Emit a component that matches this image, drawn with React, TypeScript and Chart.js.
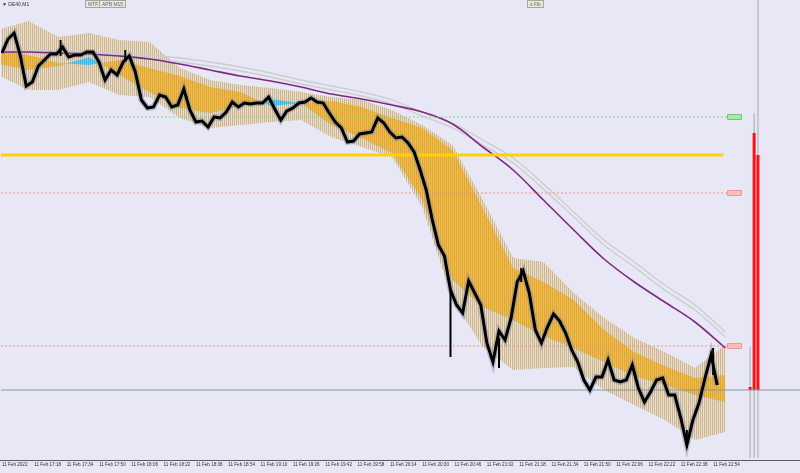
import React, { useEffect, useRef } from "react";
import { Chart, registerables } from "chart.js";
Chart.register(...registerables);

// ---- time axis (bar index, 1 bar = 1 minute, index 0 = 17:02) ----
const tickStep = 16;
const tickLabels = [
  "11 Feb 2022", "11 Feb 17:18", "11 Feb 17:34", "11 Feb 17:50", "11 Feb 18:06",
  "11 Feb 18:22", "11 Feb 18:38", "11 Feb 18:54", "11 Feb 19:10", "11 Feb 19:26",
  "11 Feb 19:42", "11 Feb 19:58", "11 Feb 20:14", "11 Feb 20:30", "11 Feb 20:46",
  "11 Feb 21:02", "11 Feb 21:18", "11 Feb 21:34", "11 Feb 21:50", "11 Feb 22:06",
  "11 Feb 22:22", "11 Feb 22:38", "11 Feb 22:54",
];

// ---- price closes, sampled every 3 bars ----
const priceStep = 3;
const closes = [
  15547, 15561, 15567, 15545, 15514, 15518, 15534, 15540, 15546, 15546,
  15553, 15543, 15545, 15545, 15548, 15548, 15538, 15520, 15530, 15525,
  15538, 15544, 15528, 15500, 15492, 15493, 15505, 15503, 15493, 15495,
  15511, 15490, 15478, 15479, 15473, 15483, 15482, 15488, 15498, 15493,
  15497, 15496, 15497, 15497, 15503, 15491, 15480, 15489, 15492, 15497,
  15498, 15502, 15498, 15497, 15487, 15478, 15472, 15458, 15459, 15466,
  15467, 15468, 15482, 15477, 15468, 15462, 15463, 15457, 15448, 15430,
  15410, 15380, 15355, 15344, 15310, 15295, 15287, 15319, 15307, 15295,
  15257, 15238, 15269, 15260, 15282, 15318, 15329, 15307, 15270, 15257,
  15273, 15286, 15279, 15267, 15250, 15238, 15220, 15210, 15223, 15223,
  15240, 15220, 15218, 15220, 15235, 15212, 15198, 15208, 15220, 15222,
  15205, 15205, 15182, 15155, 15180, 15197, 15222, 15245, 15215,
];

// ---- notable candle wicks (bar index, high, low) ----
const wickIdx = [29, 61, 222, 246, 257, 339, 352];
const wickHigh = [15560, 15550, 15310, 15262, 15332, 15170, 15252];
const wickLow = [15544, 15538, 15243, 15232, 15318, 15152, 15225];

// ---- M15 band indicator (every 15 bars, starting at 17:00) ----
const bandStart = -2;
const bandStep = 15;
const tanUpper = [
  15570, 15579, 15563, 15567, 15560, 15558, 15532, 15520, 15515, 15512,
  15508, 15503, 15500, 15490, 15475, 15455, 15400, 15342, 15338, 15307,
  15282, 15262, 15248, 15232, 15255,
];
const tanLower = [
  15525, 15510, 15510, 15518, 15505, 15503, 15482, 15472, 15475, 15478,
  15480, 15463, 15453, 15443, 15393, 15300, 15253, 15230, 15232, 15233,
  15210, 15195, 15180, 15160, 15168,
];
const apbUpper = [
  15550, 15545, 15537, 15535, 15540, 15532, 15524, 15513, 15508, 15494,
  15497, 15499, 15493, 15482, 15472, 15450, 15392, 15332, 15318, 15300,
  15270, 15248, 15234, 15222, 15225,
];
const apbLower = [
  15536, 15530, 15534, 15543, 15525, 15508, 15492, 15487, 15494, 15501,
  15497, 15475, 15462, 15447, 15400, 15320, 15293, 15280, 15264, 15252,
  15238, 15224, 15215, 15205, 15198,
];

// ---- moving averages (same sampling as bands) ----
const maPurple = [
  15548, 15548, 15547, 15546, 15544, 15541, 15536, 15530, 15524, 15519,
  15513, 15506, 15501, 15495, 15488, 15476, 15453, 15430, 15400, 15370,
  15341, 15318, 15298, 15278, 15252,
];
const maGrayA = [
  15550, 15550, 15549, 15548, 15547, 15545, 15542, 15538, 15533, 15527,
  15520, 15514, 15508, 15500, 15488, 15477, 15460, 15442, 15416, 15388,
  15360, 15338, 15315, 15295, 15268,
];
const maGrayB = [
  15548, 15548, 15547, 15546, 15545, 15542, 15538, 15534, 15529, 15523,
  15516, 15510, 15504, 15496, 15484, 15472, 15455, 15437, 15411, 15383,
  15355, 15333, 15310, 15290, 15263,
];

// ---- horizontal levels ----
const levelGreen = 15483;
const levelGold = 15445;
const levelRed = [15407, 15254];
const levelGray = 15210;
const levelEndIdx = 359;
const goldEndIdx = 357;
const labelBoxIdx = [359, 366];

// ---- right-side profile ----
const profIdx = [370.3, 372.3, 374.2];
const profTop = [15253, 15487, 15600];
const profBase = 15142;
const redTop = [15213, 15467, 15445];
const redBase = 15210;

const X_MIN = -0.5;
const X_MAX = 395;
const Y_MIN = 15140;
const Y_MAX = 15600;

function stripes(c1: string, c2: string | null) {
  const cv = document.createElement("canvas");
  cv.width = 2;
  cv.height = 1;
  const g = cv.getContext("2d")!;
  g.fillStyle = c1;
  g.fillRect(0, 0, 1, 1);
  if (c2) {
    g.fillStyle = c2;
    g.fillRect(1, 0, 1, 1);
  }
  return g.createPattern(cv, "repeat")!;
}

const series = (arr: number[], start: number, step: number) =>
  arr.map((v, i) => ({ x: start + i * step, y: v }));

export default function App() {
  const ref = useRef<HTMLCanvasElement | null>(null);

  useEffect(() => {
    if (!ref.current) return;
    const tanPat = stripes("rgba(208,178,118,0.95)", "rgba(225,210,180,0.35)");
    const orangePat = stripes("rgb(228,167,46)", "rgb(236,188,86)");
    const cyanPat = stripes("rgb(40,185,240)", "rgb(110,205,245)");

    const ds: any[] = [];
    const add = (d: any) => {
      ds.push({ pointRadius: 0, fill: false, tension: 0, ...d });
      return ds.length - 1;
    };

    // price (body + wick shade)
    add({ data: series(closes, 0, priceStep), borderColor: "#000", borderWidth: 3, order: 0 });
    wickIdx.forEach((ix, i) =>
      add({
        data: [{ x: ix, y: wickLow[i] }, { x: ix, y: wickHigh[i] }],
        borderColor: "#000", borderWidth: 2, borderCapStyle: "butt", order: 0,
      })
    );
    add({
      data: series(closes, 0, priceStep), borderColor: "rgba(130,136,160,0.45)", borderWidth: 6,
      order: 0.5,
    });
    // gold level
    add({
      data: [{ x: X_MIN, y: levelGold }, { x: goldEndIdx, y: levelGold }],
      borderColor: "#ffd200", borderWidth: 3.2, order: 1,
    });
    // dotted levels
    add({
      data: [{ x: X_MIN, y: levelGreen }, { x: levelEndIdx, y: levelGreen }],
      borderColor: "#7fdc7f", borderWidth: 1, borderDash: [2, 2], order: 2,
    });
    levelRed.forEach((lv) =>
      add({
        data: [{ x: X_MIN, y: lv }, { x: levelEndIdx, y: lv }],
        borderColor: "#f2907e", borderWidth: 1, borderDash: [2, 2], order: 2,
      })
    );
    add({
      data: [{ x: X_MIN, y: levelGray }, { x: X_MAX, y: levelGray }],
      borderColor: "#8a9898", borderWidth: 1, order: 2,
    });
    // MAs
    add({ data: series(maPurple, bandStart, bandStep), borderColor: "#7e2880", borderWidth: 1.6, tension: 0.35, order: 3 });
    add({ data: series(maGrayA, bandStart, bandStep), borderColor: "#cccccc", borderWidth: 1.3, tension: 0.35, order: 4 });
    add({ data: series(maGrayB, bandStart, bandStep), borderColor: "#cccccc", borderWidth: 1.3, tension: 0.35, order: 4 });
    // APB band (orange / cyan)
    const apbUpIdx = ds.length;
    add({
      data: series(apbUpper, bandStart, bandStep), borderWidth: 0, borderColor: "rgba(0,0,0,0)",
      fill: { target: apbUpIdx + 1, above: orangePat, below: cyanPat }, order: 6,
    });
    add({ data: series(apbLower, bandStart, bandStep), borderWidth: 0, borderColor: "rgba(0,0,0,0)", order: 7 });
    // tan envelope
    const tanUpIdx = ds.length;
    add({
      data: series(tanUpper, bandStart, bandStep), borderWidth: 0, borderColor: "rgba(0,0,0,0)",
      fill: { target: tanUpIdx + 1, above: tanPat, below: tanPat }, order: 8,
    });
    add({ data: series(tanLower, bandStart, bandStep), borderWidth: 0, borderColor: "rgba(0,0,0,0)", order: 9 });
    // right-side profile
    profIdx.forEach((ix, i) =>
      add({
        data: [{ x: ix, y: profBase }, { x: ix, y: profTop[i] }],
        borderColor: "#a8a8a8", borderWidth: 1, order: 11,
      })
    );
    profIdx.forEach((ix, i) =>
      add({
        data: [{ x: ix, y: redBase }, { x: ix, y: redTop[i] }],
        borderColor: "#ff1010", borderWidth: 3, borderCapStyle: "butt", order: 10,
      })
    );

    const boxes = {
      id: "levelBoxes",
      afterDatasetsDraw(chart: any) {
        const { ctx, scales } = chart;
        const x0 = scales.x.getPixelForValue(labelBoxIdx[0]);
        const x1 = scales.x.getPixelForValue(labelBoxIdx[1]);
        const draw = (v: number, fill: string, stroke: string) => {
          const y = scales.y.getPixelForValue(v);
          ctx.save();
          ctx.fillStyle = fill;
          ctx.strokeStyle = stroke;
          ctx.lineWidth = 1;
          ctx.beginPath();
          ctx.rect(Math.round(x0) + 0.5, Math.round(y - 3) + 0.5, Math.round(x1 - x0), 5);
          ctx.fill();
          ctx.stroke();
          ctx.restore();
        };
        draw(levelGreen, "#a6eca6", "#6ccc6c");
        levelRed.forEach((lv) => draw(lv, "#f6c0b8", "#ec9a8c"));
      },
    };

    const chart = new Chart(ref.current, {
      type: "line",
      data: { datasets: ds },
      plugins: [boxes],
      options: {
        animation: false,
        responsive: false,
        devicePixelRatio: 1,
        events: [],
        layout: { padding: 0 },
        plugins: { legend: { display: false }, tooltip: { enabled: false } },
        scales: {
          x: {
            type: "linear",
            min: X_MIN,
            max: X_MAX,
            grid: { display: false, drawTicks: false },
            border: { display: true, color: "#5a5a5a", width: 1 },
            afterFit: (s: any) => {
              s.height = 13;
            },
            afterBuildTicks: (s: any) => {
              s.ticks = tickLabels.map((_, i) => ({ value: i * tickStep }));
            },
            ticks: {
              autoSkip: false,
              maxRotation: 0,
              minRotation: 0,
              align: "start",
              padding: 2,
              color: "#303030",
              font: { family: "'Liberation Sans', sans-serif", size: 4.6 },
              callback: (_v: any, i: number) => tickLabels[i],
            },
          },
          y: { display: false, min: Y_MIN, max: Y_MAX },
        },
      } as any,
    });
    return () => chart.destroy();
  }, []);

  const btn: React.CSSProperties = {
    position: "absolute",
    top: 0,
    height: 6,
    lineHeight: "6px",
    fontSize: 5,
    fontFamily: "'Liberation Sans', sans-serif",
    color: "#4a6aa8",
    background: "#ece8d2",
    border: "1px solid #a8a89a",
    padding: "0 2px",
    boxSizing: "content-box",
    whiteSpace: "nowrap",
  };

  return (
    <div
      style={{
        position: "fixed",
        left: 0,
        top: 0,
        width: 800,
        height: 473,
        background: "#e8e7f6",
        overflow: "hidden",
      }}
    >
      <canvas ref={ref} width={800} height={473} style={{ position: "absolute", left: 0, top: 0 }} />
      <div
        style={{
          position: "absolute",
          left: 2,
          top: 1,
          fontSize: 5,
          lineHeight: "6px",
          fontFamily: "'Liberation Sans', sans-serif",
          color: "#333",
          whiteSpace: "nowrap",
        }}
      >
        ▼ DE40,M1
      </div>
      <div style={{ ...btn, left: 85 }}>MTF</div>
      <div style={{ ...btn, left: 99 }}>APB M15</div>
      <div style={{ ...btn, left: 527 }}>s Fib</div>
    </div>
  );
}
